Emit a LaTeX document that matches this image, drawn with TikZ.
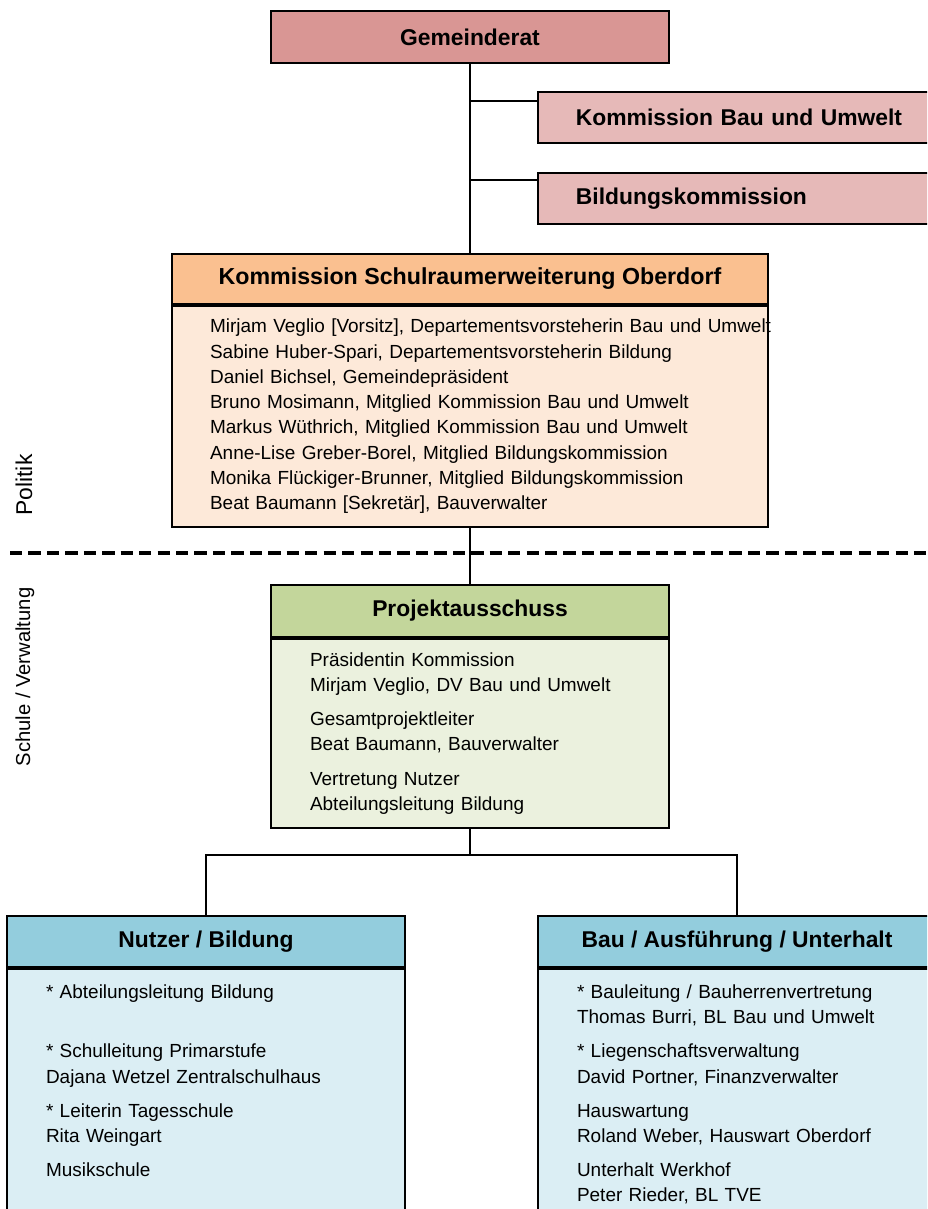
\documentclass[tikz,border=0pt]{standalone}
\usepackage{fontspec}
\setmainfont{Liberation Sans}
\usetikzlibrary{positioning}

\definecolor{ratfill}{RGB}{217,150,148}
\definecolor{komfill}{RGB}{230,185,184}
\definecolor{orahead}{RGB}{250,192,144}
\definecolor{orabody}{RGB}{253,233,217}
\definecolor{grnhead}{RGB}{195,214,155}
\definecolor{grnbody}{RGB}{235,241,222}
\definecolor{bluhead}{RGB}{147,205,221}
\definecolor{blubody}{RGB}{219,238,244}

\tikzset{
  box/.style={draw=black, line width=1.1pt, inner sep=0pt},
  headbox/.style={box, font=\bfseries\fontsize{13}{15}\selectfont, minimum width=7.96cm, minimum height=1.04cm, anchor=north},
  kombox/.style={headbox, fill=komfill, anchor=north west, text width=8cm, inner xsep=0.76cm, align=left, minimum height=1.02cm},
  bodybox/.style={box, font=\fontsize{10.8}{14.4}\selectfont, align=left, anchor=north, inner xsep=0.76cm},
  sidelabel/.style={rotate=90, font=\fontsize{11.5}{13}\selectfont},
  link/.style={line width=1.1pt}
}

\begin{document}
\begin{tikzpicture}[x=0.02cm, y=-0.02cm]
  \useasboundingbox (0,0) rectangle (927,1209);
  \clip (0,0) rectangle (927,1209);

  % Politik
  \node[headbox, fill=ratfill] (rat) at (470,10) {Gemeinderat};
  \node[kombox] (kbu) at (537,91) {Kommission Bau und Umwelt};
  \node[kombox] (bik) at (537,172) {Bildungskommission};

  \node[headbox, fill=orahead, minimum width=11.92cm, minimum height=1.0cm, font=\bfseries\fontsize{13.2}{15}\selectfont] (ksohead) at (470,253) {Kommission Schulraumerweiterung Oberdorf};
  \node[bodybox, fill=orabody, text width=10.4cm, minimum height=4.42cm] (ksobody) at (ksohead.south) {%
    \makebox[\linewidth][l]{Mirjam Veglio [Vorsitz], Departementsvorsteherin Bau und Umwelt}\\
    Sabine Huber-Spari, Departementsvorsteherin Bildung\\
    Daniel Bichsel, Gemeindepräsident\\
    Bruno Mosimann, Mitglied Kommission Bau und Umwelt\\
    Markus Wüthrich, Mitglied Kommission Bau und Umwelt\\
    Anne-Lise Greber-Borel, Mitglied Bildungskommission\\
    Monika Flückiger-Brunner, Mitglied Bildungskommission\\
    Beat Baumann [Sekretär], Bauverwalter};

  % Trennlinie
  \draw[line width=2pt, dash pattern=on 7pt off 3.5pt] (10,553) -- (927,553);
  \node[sidelabel, font=\fontsize{13}{15}\selectfont] (politik) at (24,485) {Politik};
  \node[sidelabel] (schule) at (25,677) {Schule / Verwaltung};

  % Schule / Verwaltung
  \node[headbox, fill=grnhead] (pahead) at (470,584) {Projektausschuss};
  \node[bodybox, fill=grnbody, text width=6.4cm, inner xsep=0.78cm, minimum height=3.78cm] (pabody) at (pahead.south) {%
    Präsidentin Kommission\\
    Mirjam Veglio, DV Bau und Umwelt\\[5pt]
    Gesamtprojektleiter\\
    Beat Baumann, Bauverwalter\\[5pt]
    Vertretung Nutzer\\
    Abteilungsleitung Bildung};

  \node[headbox, fill=bluhead, minimum height=1.02cm] (nbhead) at (206,915) {Nutzer / Bildung};
  \node[bodybox, fill=blubody, text width=6.4cm, inner xsep=0.78cm, inner ysep=9pt] (nbbody) at (nbhead.south) {%
    * Abteilungsleitung Bildung\\
    \mbox{}\\[5pt]
    * Schulleitung Primarstufe\\
    Dajana Wetzel Zentralschulhaus\\[5pt]
    * Leiterin Tagesschule\\
    Rita Weingart\\[5pt]
    Musikschule\rule[-3cm]{0pt}{0pt}};

  \node[headbox, fill=bluhead, minimum height=1.02cm] (bauhead) at (737,915) {Bau / Ausführung / Unterhalt};
  \node[bodybox, fill=blubody, text width=6.4cm, inner xsep=0.78cm, inner ysep=9pt] (baubody) at (bauhead.south) {%
    * Bauleitung / Bauherrenvertretung\\
    Thomas Burri, BL Bau und Umwelt\\[5pt]
    * Liegenschaftsverwaltung\\
    David Portner, Finanzverwalter\\[5pt]
    Hauswartung\\
    Roland Weber, Hauswart Oberdorf\\[5pt]
    Unterhalt Werkhof\\
    Peter Rieder, BL TVE\rule[-3cm]{0pt}{0pt}};

  % Verbindungen
  \coordinate (kbujoin) at (470,101);
  \coordinate (bikjoin) at (470,180);
  \coordinate (split) at (470,855);
  \draw[link] (rat.south) -- (ksohead.north);
  \draw[link] (kbujoin) -- (kbujoin -| kbu.west);
  \draw[link] (bikjoin) -- (bikjoin -| bik.west);
  \draw[link] (ksobody.south) -- (pahead.north);
  \draw[link] (pabody.south) -- (split) -| (nbhead.north);
  \draw[link] (split) -| (bauhead.north);
\end{tikzpicture}
\end{document}
